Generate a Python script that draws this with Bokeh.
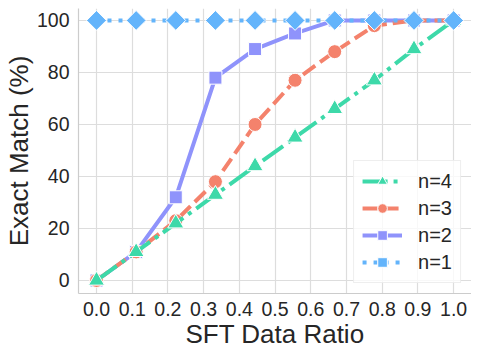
import math
from bokeh.plotting import figure
from bokeh.models import Legend, LegendItem, Range1d, FixedTicker
from bokeh.embed import file_html
from bokeh.resources import INLINE

ratios = [0.0, 0.111, 0.222, 0.333, 0.444, 0.556, 0.667, 0.778, 0.889, 1.0]
n4 = [0, 11, 22, 33, 44, 55, 66, 77, 89, 100]
n3 = [0, 11, 23, 38, 60, 77, 88, 98, 100, 100]
n2 = [0, 11, 32, 78, 89, 95, 100, 100, 100, 100]
n1 = [100, 100, 100, 100, 100, 100, 100, 100, 100, 100]
labels = ["n=4", "n=3", "n=2", "n=1"]
xticks = [0.0, 0.1, 0.2, 0.3, 0.4, 0.5, 0.6, 0.7, 0.8, 0.9, 1.0]
yticks = [0, 20, 40, 60, 80, 100]

FONT = "Liberation Sans"

p = figure(frame_width=393, frame_height=285, output_backend="svg", toolbar_location=None,
           x_range=Range1d(-0.0504, 1.05), y_range=Range1d(-5, 104.6),
           min_border_left=60, min_border_bottom=55, min_border_top=8, min_border_right=0)
p.outline_line_color = None
p.background_fill_color = "white"

for ax in (p.xaxis[0], p.yaxis[0]):
    ax.axis_line_color = "#cccccc"
    ax.axis_line_width = 1.2
    ax.major_tick_line_color = None
    ax.minor_tick_line_color = None
    ax.major_label_text_font = FONT
    ax.major_label_text_font_size = "19.5px"
    ax.major_label_text_color = "#262626"
    ax.axis_label_text_font = FONT
    ax.axis_label_text_font_size = "26px"
    ax.axis_label_text_font_style = "normal"
    ax.axis_label_text_color = "#262626"
    ax.axis_label_standoff = 0

p.xaxis.ticker = FixedTicker(ticks=xticks)
p.yaxis.ticker = FixedTicker(ticks=yticks)
p.xaxis.major_label_overrides = {t: f"{t:.1f}" for t in xticks}
p.xaxis.axis_label = "SFT Data Ratio"
p.yaxis.axis_label = "Exact Match (%)"
p.xaxis.major_label_standoff = 2
p.yaxis.major_label_standoff = 3
p.xgrid.grid_line_color = "#dddddd"
p.ygrid.grid_line_color = "#dddddd"
p.xgrid.grid_line_width = 1.2
p.ygrid.grid_line_width = 1.2

series = {
    "n=4": (n4, "#3dd9a9", "25 6 4 6", "triangle", 16, 0.0),
    "n=3": (n3, "#f4826c", "15 6", "circle", 14, 0.0),
    "n=2": (n2, "#8f93fb", "solid", "square", 13, 0.0),
    "n=1": (n1, "#63b4fb", "4 7", "square", 14, math.pi / 4),
}
rend = {}
for lab in ["n=2", "n=3", "n=4", "n=1"]:
    vals, col, dash, mk, sz, ang = series[lab]
    l = p.line(ratios, vals, line_color=col, line_width=4, line_dash=dash, line_cap="butt")
    s = p.scatter(ratios, vals, marker=mk, size=sz, angle=ang, fill_color=col,
                  line_color="white", line_width=1)
    rend[lab] = (l, s)

legend = Legend(items=[LegendItem(label=lab, renderers=list(rend[lab])) for lab in labels],
                location="bottom_right")
legend.label_text_font = FONT
legend.label_text_font_size = "20px"
legend.label_text_color = "#262626"
legend.glyph_width = 40
legend.glyph_height = 24
legend.label_height = 24
legend.spacing = 3
legend.padding = 8
legend.margin = 10
legend.label_standoff = 16
legend.border_line_color = "#dddddd"
legend.border_line_width = 1
legend.background_fill_alpha = 0.8
p.add_layout(legend, "center")

open("out.html", "w").write(file_html(p, INLINE))
